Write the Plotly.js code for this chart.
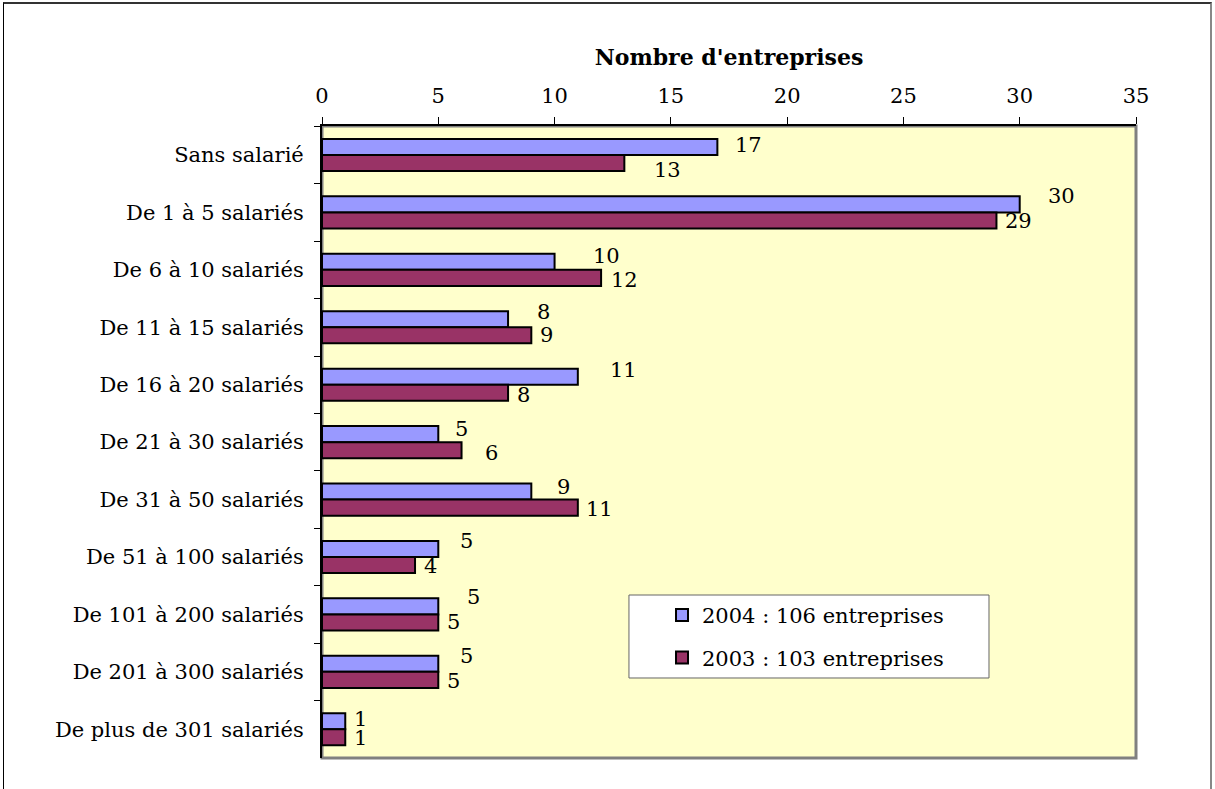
<!DOCTYPE html>
<html>
<head>
<meta charset="utf-8">
<script src="https://cdn.plot.ly/plotly-3.0.1.min.js"></script>
<style>
  html, body { margin: 0; padding: 0; background: #ffffff; }
  #chart { position: absolute; left: 0; top: 0; width: 1215px; height: 789px; }
  #frame { position: absolute; left: 3px; top: 2px; width: 1209px; height: 800px;
           border-left: 1px solid #000; border-top: 2px solid #333; border-right: 2px solid #888;
           pointer-events: none; box-sizing: border-box; }
</style>
</head>
<body>
<div id="chart"></div>
<div id="frame"></div>
<script>
// ---- data ----
const categories = [
  "Sans salarié",
  "De 1 à 5 salariés",
  "De 6 à 10 salariés",
  "De 11 à 15 salariés",
  "De 16 à 20 salariés",
  "De 21 à 30 salariés",
  "De 31 à 50 salariés",
  "De 51 à 100 salariés",
  "De 101 à 200 salariés",
  "De 201 à 300 salariés",
  "De plus de 301 salariés"
];
const values2004 = [17, 30, 10, 8, 11, 5, 9, 5, 5, 5, 1];
const values2003 = [13, 29, 12, 9, 8, 6, 11, 4, 5, 5, 1];
const name2004 = "2004 : 106 entreprises";
const name2003 = "2003 : 103 entreprises";
const axisTitle = "Nombre d'entreprises";
const xTicks = [0, 5, 10, 15, 20, 25, 30, 35];

// ---- label nudges (pixels, styling only) ----
const nudge2004 = { dx: [31, 42, 52, 35, 46, 23, 32, 28, 35, 28, 15], dy: [-10, -16, -14, -15, -15, -13, -13, -16, -17, -16, -10] };
const nudge2003 = { dx: [43, 22, 23, 15, 15, 30, 22, 15, 15, 15, 15], dy: [15, 9, 10, 8, 10, 11, 9, 9, 8, 9, 9] };

const FONT = "DejaVu Serif";
const FS = 21;

const traces = [
  {
    type: "bar", orientation: "h", name: name2004, legendgroup: "a",
    y: categories, x: values2004,
    marker: { color: "#9999FF", line: { color: "#000000", width: 2 } },
    hoverinfo: "x+y"
  },
  {
    type: "bar", orientation: "h", name: name2003, legendgroup: "b",
    y: categories, x: values2003,
    marker: { color: "#993366", line: { color: "#000000", width: 2 } },
    hoverinfo: "x+y"
  }
];

const annotations = [];
function addLabels(vals, nudge) {
  vals.forEach((v, i) => {
    annotations.push({
      x: v, y: categories[i], xref: "x", yref: "y",
      text: String(v), showarrow: false,
      xanchor: "center", yanchor: "middle",
      xshift: nudge.dx[i], yshift: -nudge.dy[i],
      font: { family: FONT, size: FS, color: "#000" }
    });
  });
}
addLabels(values2004, nudge2004);
addLabels(values2003, nudge2003);

const layout = {
  width: 1215, height: 789,
  margin: { l: 322, r: 79, t: 126, b: 31, pad: 0 },
  paper_bgcolor: "#ffffff",
  plot_bgcolor: "#FFFFCC",
  font: { family: FONT, size: FS, color: "#000" },
  barmode: "group",
  bargap: 0.44,
  bargroupgap: 0,
  showlegend: true,
  legend: {
    x: 0.4177, xanchor: "left",
    y: 0.258, yanchor: "top",
    bgcolor: "rgba(0,0,0,0)", borderwidth: 0,
    traceorder: "grouped", tracegroupgap: 12,
    font: { family: FONT, size: FS, color: "#000" }
  },
  xaxis: {
    side: "top",
    range: [0, 35],
    tickvals: xTicks,
    ticktext: xTicks.map(String),
    ticks: "outside", ticklen: 7, tickwidth: 1, tickcolor: "#000",
    ticklabelstandoff: 6,
    showline: true, linecolor: "#000", linewidth: 2,
    showgrid: false, zeroline: false,
    tickfont: { family: FONT, size: FS, color: "#000" },
    title: { text: axisTitle, standoff: 12, font: { family: FONT, size: 22, weight: "bold", color: "#000" } },
    fixedrange: true
  },
  yaxis: {
    type: "category",
    autorange: "reversed",
    tickson: "boundaries",
    ticks: "outside", ticklen: 6, tickwidth: 1, tickcolor: "#000",
    ticklabelstandoff: 12,
    showline: true, linecolor: "#000", linewidth: 2,
    showgrid: false, zeroline: false,
    tickfont: { family: FONT, size: FS, color: "#000" },
    fixedrange: true
  },
  shapes: [
    { type: "rect", xref: "paper", yref: "paper", x0: 0, x1: 1, y0: 0, y1: 1,
      line: { color: "#808080", width: 3 }, fillcolor: "rgba(0,0,0,0)", layer: "below" },
    { type: "rect", xref: "paper", yref: "paper", x0: 0.3771, x1: 0.8194, y0: 0.1266, y1: 0.2579,
      line: { color: "#666666", width: 1 }, fillcolor: "#FFFFFF", layer: "below" }
  ],
  annotations: annotations
};

Plotly.newPlot("chart", traces, layout, { displayModeBar: false, staticPlot: true });
</script>
</body>
</html>
